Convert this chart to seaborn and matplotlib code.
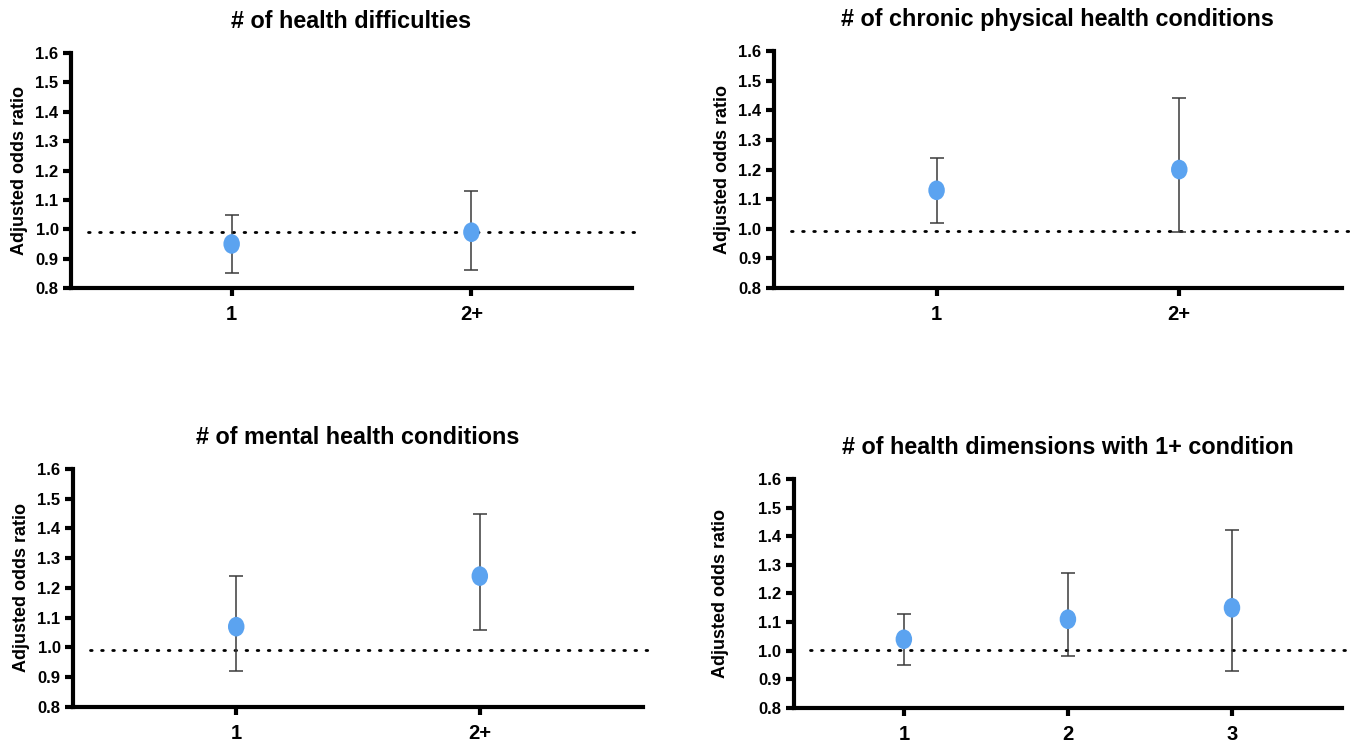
import numpy as np
import pandas as pd
import matplotlib
matplotlib.use("Agg")
import matplotlib.pyplot as plt
from matplotlib.path import Path
import seaborn as sns

# ---- data ----
titles = ["# of health difficulties",
          "# of chronic physical health conditions",
          "# of mental health conditions",
          "# of health dimensions with 1+ condition"]

cats_difficulties = ["1", "2+"]
aor_difficulties = [0.95, 0.99]
lo_difficulties = [0.85, 0.86]
hi_difficulties = [1.05, 1.13]

cats_physical = ["1", "2+"]
aor_physical = [1.13, 1.20]
lo_physical = [1.02, 0.99]
hi_physical = [1.24, 1.44]

cats_mental = ["1", "2+"]
aor_mental = [1.07, 1.24]
lo_mental = [0.92, 1.06]
hi_mental = [1.24, 1.45]

cats_dimensions = ["1", "2", "3"]
aor_dimensions = [1.04, 1.11, 1.15]
lo_dimensions = [0.95, 0.98, 0.93]
hi_dimensions = [1.13, 1.27, 1.42]

ref_lines = [0.992, 0.992, 0.992, 1.003]
y_ticks = [0.8, 0.9, 1.0, 1.1, 1.2, 1.3, 1.4, 1.5, 1.6]

panels = [
    (cats_difficulties, aor_difficulties, lo_difficulties, hi_difficulties),
    (cats_physical, aor_physical, lo_physical, hi_physical),
    (cats_mental, aor_mental, lo_mental, hi_mental),
    (cats_dimensions, aor_dimensions, lo_dimensions, hi_dimensions),
]

# ---- style ----
sns.set_style("ticks")
plt.rcParams['font.family'] = ['Liberation Sans', 'DejaVu Sans']
plt.rcParams['font.weight'] = 'bold'
plt.rcParams['text.color'] = 'black'
plt.rcParams['axes.labelcolor'] = 'black'
plt.rcParams['xtick.color'] = 'black'
plt.rcParams['ytick.color'] = 'black'
plt.rcParams['axes.edgecolor'] = 'black'

dot_color = "#5BA3F0"
bar_color = "#3A3A3A"

# slightly tall ellipse marker (the original image is squeezed horizontally)
circ = Path.unit_circle()
ell = Path(circ.vertices * np.array([0.84, 1.0]), circ.codes)

# axes boxes (left, bottom, width, height) in figure fractions
boxes = [
    (0.0526, 0.6134, 0.4156, 0.3154),
    (0.5733, 0.6134, 0.4207, 0.3180),
    (0.0541, 0.0510, 0.4222, 0.3195),
    (0.5881, 0.0497, 0.4059, 0.3074),
]
label_pads = [5, 5, 5, 21]

fig = plt.figure(figsize=(13.5, 7.45), dpi=100)

for i, (cats, aor, lo, hi) in enumerate(panels):
    ax = fig.add_axes(boxes[i])
    df = pd.DataFrame({"pos": np.arange(len(cats)), "aor": aor,
                       "lo": lo, "hi": hi})

    ax.axhline(ref_lines[i], xmin=0.03, xmax=1.012, color="black", lw=2.0,
               linestyle=(0, (0.6, 3.4)), dash_capstyle="round",
               clip_on=False, zorder=1)

    ax.errorbar(df["pos"], df["aor"],
                yerr=[df["aor"] - df["lo"], df["hi"] - df["aor"]],
                fmt="none", ecolor=bar_color, elinewidth=1.1,
                capsize=5, capthick=1.1, zorder=2)

    sns.scatterplot(data=df, x="pos", y="aor", ax=ax, marker=ell, s=200,
                    color=dot_color, edgecolor="none", zorder=3, legend=False)

    n = len(cats)
    ax.set_xlim(-0.67, n - 1 + 0.67)
    ax.set_ylim(0.8, 1.6)
    ax.set_xticks(np.arange(n))
    ax.set_xticklabels(cats, fontsize=14.5, fontweight="bold")
    ax.set_yticks(y_ticks)
    ax.set_yticklabels([f"{v:.1f}" for v in y_ticks], fontsize=12,
                       fontweight="bold")
    ax.set_xlabel("")
    ax.set_ylabel("Adjusted odds ratio", fontsize=13, fontweight="bold",
                  labelpad=label_pads[i])
    ax.set_title(titles[i], fontsize=16.8, fontweight="bold", pad=18)

    sns.despine(ax=ax)
    for side in ["left", "bottom"]:
        ax.spines[side].set_linewidth(3.0)
    ax.tick_params(axis="both", width=3.0, length=6, pad=3)
    ax.tick_params(axis="x", pad=6)

fig.savefig("out.png", dpi=100, facecolor="white")
